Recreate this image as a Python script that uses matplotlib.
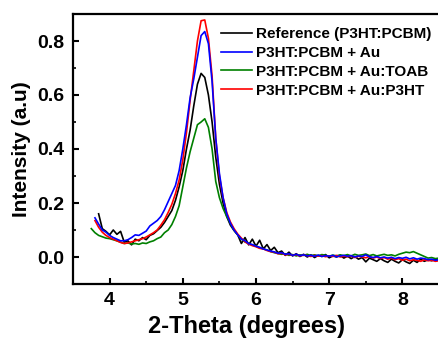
import numpy as np
import matplotlib
matplotlib.use("Agg")
import matplotlib.pyplot as plt
from matplotlib.ticker import MultipleLocator

nan = np.nan

# 2-theta grid, 3.75 .. 8.50 in 0.05 steps
two_theta = np.round(np.arange(3.75, 8.5001, 0.05), 2)

reference = [
    nan, nan, 0.160, 0.105, 0.095, 0.082, 0.100, 0.084, 0.095, 0.055,
    0.060, 0.045, 0.066, 0.060, 0.072, 0.064, 0.080, 0.086, 0.098, 0.110,
    0.128, 0.150, 0.172, 0.210, 0.260, 0.320, 0.400, 0.470, 0.560, 0.640,
    0.680, 0.665, 0.600, 0.500, 0.370, 0.270, 0.200, 0.150, 0.118, 0.098,
    0.082, 0.050, 0.072, 0.045, 0.066, 0.040, 0.062, 0.030, 0.046, 0.024,
    0.036, 0.016, 0.022, 0.006, 0.018, 0.004, 0.012, 0.002, 0.010, 0.000,
    0.008, -0.002, 0.006, 0.002, 0.009, -0.003, 0.004, 0.000, 0.006, -0.004,
    0.003, -0.006, 0.002, -0.008, -0.002, -0.018, -0.004, -0.010, -0.016, -0.006,
    -0.014, -0.020, -0.008, -0.016, -0.022, -0.010, -0.018, -0.024, -0.012, -0.020,
    -0.008, -0.016, -0.010, -0.014, -0.008, -0.012,
]

au = [
    nan, 0.145, 0.122, 0.100, 0.092, 0.080, 0.072, 0.066, 0.060, 0.060,
    0.064, 0.072, 0.082, 0.080, 0.088, 0.096, 0.115, 0.125, 0.135, 0.150,
    0.175, 0.205, 0.235, 0.265, 0.320, 0.400, 0.490, 0.590, 0.660, 0.740,
    0.820, 0.835, 0.790, 0.650, 0.440, 0.310, 0.220, 0.160, 0.125, 0.100,
    0.082, 0.066, 0.060, 0.050, 0.046, 0.040, 0.036, 0.030, 0.026, 0.022,
    0.019, 0.014, 0.016, 0.010, 0.012, 0.006, 0.010, 0.005, 0.008, 0.004,
    0.006, 0.003, 0.007, 0.002, 0.005, 0.003, 0.006, 0.001, 0.004, 0.006,
    0.003, 0.005, 0.000, 0.004, 0.002, 0.008, 0.001, -0.002, 0.002, -0.003,
    0.000, -0.004, -0.001, -0.006, -0.002, -0.005, -0.001, -0.007, -0.003, -0.008,
    -0.004, -0.006, -0.010, -0.008, -0.012, -0.010,
]

au_toab = [
    0.105, 0.090, 0.080, 0.075, 0.070, 0.068, 0.064, 0.060, 0.055, 0.050,
    0.052, 0.048, 0.050, 0.047, 0.052, 0.050, 0.056, 0.060, 0.068, 0.074,
    0.090, 0.100, 0.120, 0.150, 0.190, 0.260, 0.330, 0.390, 0.440, 0.490,
    0.500, 0.512, 0.480, 0.400, 0.280, 0.220, 0.180, 0.150, 0.125, 0.100,
    0.082, 0.066, 0.056, 0.050, 0.044, 0.040, 0.034, 0.030, 0.026, 0.020,
    0.016, 0.013, 0.010, 0.012, 0.006, 0.009, 0.004, 0.008, 0.006, 0.010,
    0.005, 0.008, 0.004, 0.009, 0.006, 0.003, 0.007, 0.004, 0.008, 0.005,
    0.009, 0.004, 0.010, 0.006, 0.008, 0.011, 0.005, 0.009, 0.004, 0.007,
    0.010, 0.006, 0.008, 0.004, 0.010, 0.014, 0.018, 0.016, 0.020, 0.014,
    0.008, 0.002, -0.004, -0.002, -0.006, -0.004,
]

au_p3ht = [
    nan, 0.135, 0.110, 0.092, 0.080, 0.072, 0.066, 0.060, 0.054, 0.050,
    0.052, 0.056, 0.060, 0.064, 0.068, 0.074, 0.082, 0.090, 0.100, 0.118,
    0.138, 0.165, 0.195, 0.235, 0.285, 0.360, 0.460, 0.580, 0.690, 0.800,
    0.875, 0.878, 0.810, 0.670, 0.440, 0.300, 0.220, 0.165, 0.130, 0.105,
    0.085, 0.070, 0.056, 0.048, 0.042, 0.038, 0.032, 0.030, 0.024, 0.020,
    0.018, 0.012, 0.014, 0.008, 0.010, 0.006, 0.009, 0.004, 0.007, 0.005,
    0.002, 0.006, 0.003, 0.005, 0.001, 0.004, 0.002, 0.006, 0.000, 0.003,
    0.001, 0.004, -0.002, 0.003, 0.000, -0.003, 0.002, -0.004, 0.000, -0.006,
    -0.002, -0.008, -0.004, -0.010, -0.006, -0.012, -0.008, -0.014, -0.010, -0.012,
    -0.016, -0.010, -0.014, -0.012, -0.016, -0.014,
]

series = [
    ("Reference (P3HT:PCBM)", reference, "black", 2),
    ("P3HT:PCBM + Au", au, "blue", 5),
    ("P3HT:PCBM + Au:TOAB", au_toab, "#008000", 3),
    ("P3HT:PCBM + Au:P3HT", au_p3ht, "red", 4),
]

plt.rcParams["font.family"] = "Liberation Sans"
plt.rcParams["font.weight"] = "bold"

fig = plt.figure(figsize=(4.38, 3.42), dpi=100)
ax = fig.add_axes([73 / 438, 1 - 284 / 342, 366 / 438, 270 / 342])

for label, values, color, z in series:
    ax.plot(two_theta, values, color=color, lw=1.2, label=label, zorder=z)

ax.set_xlim(3.5, 8.5)
ax.set_ylim(-0.1, 0.9)
ax.xaxis.set_major_locator(MultipleLocator(1))
ax.xaxis.set_minor_locator(MultipleLocator(0.5))
ax.yaxis.set_major_locator(MultipleLocator(0.2))
ax.yaxis.set_minor_locator(MultipleLocator(0.1))
ax.yaxis.set_major_formatter(plt.FormatStrFormatter("%.1f"))

ax.tick_params(which="major", direction="in", length=4.5, width=1.5,
               labelsize=14, pad=6)
ax.tick_params(which="minor", direction="in", length=2.5, width=1.2)
for side in ["left", "bottom", "top"]:
    ax.spines[side].set_linewidth(1.6)
ax.spines["right"].set_visible(False)

ax.set_xlabel("2-Theta (degrees)", fontsize=17, fontweight="bold", labelpad=3)
ax.xaxis.set_label_coords(0.473, -0.115)
ax.set_ylabel("Intensity (a.u)", fontsize=15, fontweight="bold", labelpad=5)

ax.legend(loc="upper left", bbox_to_anchor=(0.405, 0.952), frameon=False,
          fontsize=11, handlelength=2.0, handletextpad=0.25,
          labelspacing=0.32, borderpad=0, borderaxespad=0)

fig.savefig("out.png", dpi=100)
